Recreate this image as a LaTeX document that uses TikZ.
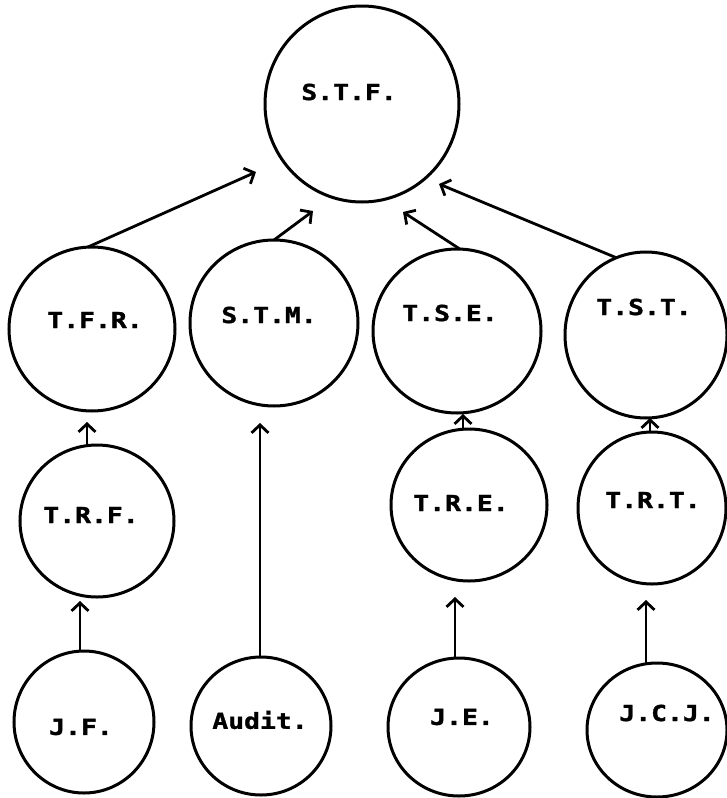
\documentclass[tikz,border=0pt]{standalone}
\usepackage{fontspec}
\newfontfamily\lblfont[FakeStretch=1.2,FakeBold=1.5]{DejaVu Sans Mono Bold}
\usetikzlibrary{shapes.geometric,arrows.meta}
\tikzset{
  bubble/.style 2 args={ellipse, draw, line width=3pt, inner sep=0pt, outer sep=0pt,
     minimum width=#1pt, minimum height=#2pt},
  lbl/.style={inner sep=0pt, font=\lblfont\fontsize{22}{24}\selectfont},
  link/.style={line width=2.8pt, -{Straight Barb[length=8pt,width=17pt,line width=2.8pt]}}
}
\begin{document}
\begin{tikzpicture}[x=1pt,y=-1pt]
\useasboundingbox (0,0) rectangle (726,798);
% nodes
\node[bubble={194}{196}] (stf) at (362,104) {};
\node[lbl] (stft) at (349,92) {S.T.F.};
\node[bubble={166}{164}] (tfr) at (92,329) {};
\node[lbl] (tfrt) at (95,320) {T.F.R.};
\node[bubble={168}{166}] (stm) at (274,323) {};
\node[lbl] (stmt) at (269,315) {S.T.M.};
\node[bubble={168}{164}] (tse) at (457,331) {};
\node[lbl] (tset) at (450,313) {T.S.E.};
\node[bubble={162}{166}] (tst) at (646,335) {};
\node[lbl] (tstt) at (644,307) {T.S.T.};
\node[bubble={154}{152}] (trf) at (97,521) {};
\node[lbl] (trft) at (91,515) {T.R.F.};
\node[bubble={156}{152}] (tre) at (469,505) {};
\node[lbl] (tret) at (461,503) {T.R.E.};
\node[bubble={148}{152}] (trt) at (652,508) {};
\node[lbl] (trtt) at (653,500) {T.R.T.};
\node[bubble={140}{142}] (jf) at (84,722) {};
\node[lbl] (jft) at (81,727) {J.F.};
\node[bubble={140}{138}] (aud) at (261,726) {};
\node[lbl] (audt) at (260,720) {Audit.};
\node[bubble={142}{138}] (je) at (459,727) {};
\node[lbl] (jet) at (462,717) {J.E.};
\node[bubble={140}{134}] (jcj) at (657,730) {};
\node[lbl] (jcjt) at (667,713) {J.C.J.};
% arrow tips
\coordinate (t1) at (256,172);
\coordinate (t2) at (313,211);
\coordinate (t3) at (403,212);
\coordinate (t4) at (439,184);
\coordinate (t5) at (87,422);
\coordinate (t6) at (260,423);
\coordinate (t7) at (463,414);
\coordinate (t8) at (650,418);
\coordinate (t9) at (80,601);
\coordinate (t10) at (455,597);
\coordinate (t11) at (646,600);
% connectors
\draw[link] (tfr.93) -- (t1);
\draw[link] (stm.north) -- (t2);
\draw[link] (tse.88) -- (t3);
\draw[link] (tst.111) -- (t4);
\draw[link] (trf.north -| t5) -- (t5);
\draw[link] (aud.north -| t6) -- (t6);
\draw[link] (tre.north -| t7) -- (t7);
\draw[link] (trt.north -| t8) -- (t8);
\draw[link] (jf.north -| t9) -- (t9);
\draw[link] (je.north -| t10) -- (t10);
\draw[link] (jcj.north -| t11) -- (t11);
\end{tikzpicture}
\end{document}
